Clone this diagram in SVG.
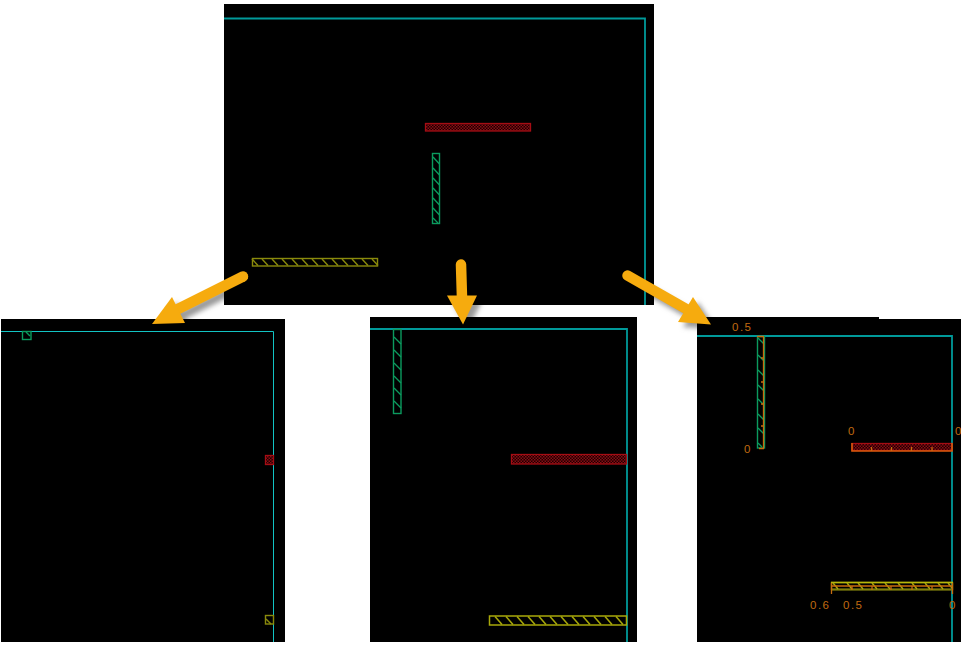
<svg xmlns="http://www.w3.org/2000/svg" width="961" height="647" viewBox="0 0 961 647">
<style>
.panel{fill:#000}
.frame{fill:none;stroke:#009a9a;stroke-width:1.8}
.thin{fill:none;stroke:#12c4c4;stroke-width:1}
.g{fill:none;stroke:#0b9a5e;stroke-width:1.4}
.y{fill:none;stroke:#8a8a0c;stroke-width:1.4}
.yb{fill:none;stroke:#a8a80a;stroke-width:1.5}
.r{fill:url(#dense);stroke:#a50d14;stroke-width:1.3}
.o{fill:none;stroke:#c86c0e;stroke-width:1.3}
.t{font-family:"Liberation Sans",Arial,sans-serif;font-size:11.5px;fill:#c06a10;letter-spacing:1.5px}
.shaft{fill:none;stroke:#f6ab0e;stroke-width:10.5;stroke-linecap:round}
.head{fill:#f6ab0e}
.shs{fill:none;stroke:#999;stroke-width:9}
.shh{fill:#999}
</style>
<defs>
<pattern id="dense" width="3" height="3" patternUnits="userSpaceOnUse">
<rect width="3" height="3" fill="#1c0002"/>
<rect width="1.5" height="1.5" fill="#8a0c12"/>
<rect x="1.5" y="1.5" width="1.5" height="1.5" fill="#8a0c12"/>
</pattern>
<filter id="blur" x="-20%" y="-20%" width="140%" height="140%"><feGaussianBlur stdDeviation="2.5"/></filter>
</defs>
<rect width="961" height="647" fill="#fff"/>
<g id="connector-shadows" filter="url(#blur)" transform="translate(5,5)">
<path class="shs" d="M243 277L178 310"/><polygon class="shh" points="152,324 172,297 185,323"/>
<path class="shs" d="M461 264L462 296"/><polygon class="shh" points="447,296 477,296 463,324"/>
<path class="shs" d="M627 276L686 310"/><polygon class="shh" points="693,297 678,322 711,324"/>
</g>
<g id="panel-top">
<rect class="panel" x="224" y="4" width="430" height="301"/>
<path class="frame" d="M224 18.500H645V305"/>
<rect class="r" x="425.500" y="123.500" width="105" height="7.500"/>
<rect class="g" x="432.500" y="153.500" width="7" height="70"/>
<path class="g" d="M433 157l6.500 7M433 168l6.500 7M433 178l6.500 7M433 188l6.500 7M433 198l6.500 7M433 208l6.500 7M433 218l5 5"/>
<rect class="y" x="252.500" y="258.500" width="125" height="7.500"/>
<path class="y" d="M252 259l6 6.500M262 259l6 6.500M272 259l6 6.500M282 259l6 6.500M292 259l6 6.500M302 259l6 6.500M312 259l6 6.500M322 259l6 6.500M332 259l6 6.500M342 259l6 6.500M352 259l6 6.500M362 259l6 6.500M372 259l6 6.500"/>
</g>
<g id="panel-left">
<rect class="panel" x="1" y="319" width="284" height="323"/>
<path class="thin" d="M1 331.500H273.500V642"/>
<rect class="g" x="22.500" y="331.500" width="8.500" height="8"/>
<path class="g" d="M26 332l4 4"/>
<rect x="265.500" y="455.500" width="8" height="9" class="r"/>
<rect class="y" x="265.500" y="615.500" width="8" height="8.500"/>
<path class="y" d="M266 619l5 5"/>
</g>
<g id="panel-middle">
<rect class="panel" x="370" y="317" width="267" height="325"/>
<path class="frame" d="M370 329H627V642"/>
<rect class="g" x="393.500" y="329.500" width="7.500" height="84"/>
<path class="g" d="M394 337l7 7M394 350l7 7M394 363l7 7M394 376l7 7M394 388l7 7M394 401l7 7"/>
<rect class="r" x="511.500" y="454.500" width="115" height="9.500"/>
<rect class="yb" x="489.500" y="616" width="137" height="9"/>
<path class="yb" d="M495 616.500l7 8M506 616.500l7 8M517 616.500l7 8M528 616.500l7 8M539 616.500l7 8M550 616.500l7 8M561 616.500l7 8M572 616.500l7 8M583 616.500l7 8M594 616.500l7 8M605 616.500l7 8M616 616.500l7 8"/>
</g>
<g id="panel-right">
<path class="panel" d="M697 317H879V319H961V642H697Z"/>
<path class="frame" d="M697 336H952V642"/>
<rect class="g" x="757.500" y="336.500" width="7" height="111.500"/>
<path class="g" d="M758 338l6 6M758 355l6 6M758 370l6 6M758 385l6 6M758 399l6 6M758 414l6 6M758 428l6 6M758 443l4 4"/>
<path class="o" d="M757 336.500H764M763.500 337V448M759 448.500H764M761 358h3M761 382h3M761 404h3M761 426h3"/>
<text class="t" x="732" y="331">0.5</text>
<text class="t" x="744" y="453">0</text>
<rect class="r" x="852" y="443.500" width="100" height="7"/>
<path class="o" d="M852 443V451H952V443" style="stroke:#d8590c;stroke-width:1.6"/>
<path class="o" d="M871.500 447v4M891.500 447v4M911.500 447v4M932 447v4"/>
<text class="t" x="848" y="435">0</text>
<text class="t" x="955" y="435">0</text>
<rect class="y" x="831.500" y="582.500" width="121" height="7"/>
<path d="M831 582.500H953" fill="none" stroke="#b8b80a" stroke-width="1.300"/>
<path d="M832 589.500H952" fill="none" stroke="#7f7f0c" stroke-width="2"/>
<path class="yb" d="M833 583l5 6M847 583l5 6M858 583l5 6M872 583l5 6M885 583l5 6M898 583l5 6M912 583l5 6M925 583l5 6M938 583l5 6M948 583l4 5"/>
<path class="o" d="M831.500 583V594M952.500 583V594M832 586H952M852 586v4M872 586v4M891 586v4M912 586v4M932 586v4"/>
<text class="t" x="810" y="609">0.6</text>
<text class="t" x="843" y="609">0.5</text>
<text class="t" x="949" y="609">0</text>
</g>
<g id="connectors">
<g id="arrow-left"><path class="shaft" d="M243 276.500L176 310"/><polygon class="head" points="152,324 172,297 185,323"/></g>
<g id="arrow-middle"><path class="shaft" d="M461 264.500L462 298"/><polygon class="head" points="447,295.500 477,295.500 463,324.500"/></g>
<g id="arrow-right"><path class="shaft" d="M627.500 275.500L688 310"/><polygon class="head" points="693,297 678,322 711,324.500"/></g>
</g>
</svg>
